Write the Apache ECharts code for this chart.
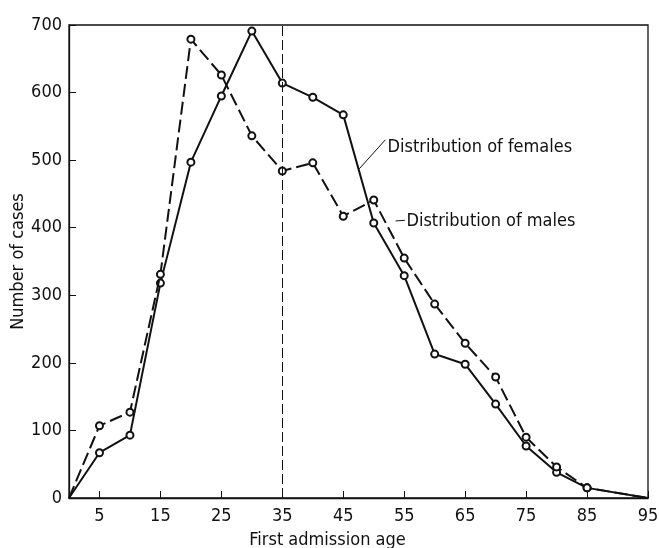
<!DOCTYPE html>
<html lang="en">
<head>
    <meta charset="UTF-8">
    <title>first admission age</title>
    <script src="https://cdn.jsdelivr.net/npm/echarts@6/dist/echarts.min.js"></script>
</head>
<body style="margin:0">
<div id="chart" style="width: 659px;height:548px;"></div>
<script>
    let ages = [0, 5, 10, 15, 20, 25, 30, 35, 40, 45, 50, 55, 60, 65, 70, 75, 80, 85, 95]
    let females = [0, 67, 93, 318, 497, 595, 691, 614, 593, 567, 407, 329, 213, 198, 139, 77, 38, 15, 0]
    let males = [0, 107, 127, 331, 679, 626, 536, 484, 496, 417, 441, 355, 287, 229, 179, 90, 46, 15, 0]
    let xLabels = [5, 15, 25, 35, 45, 55, 65, 75, 85, 95]

    let font = '"Liberation Sans Narrow", "DejaVu Sans Condensed", sans-serif'
    let ink = '#111'

    // first and last points have no circle
    function toData(values) {
        return values.map(function (v, i) {
            let item = {value: [ages[i], v]};
            if (i === 0 || i === values.length - 1) item.symbol = 'none';
            return item;
        });
    }

    let chart = echarts.init(document.getElementById('chart'));

    let option = {
        animation: false,
        grid: {
            left: 69, top: 25, right: 11, bottom: 50,
            outerBoundsMode: 'none',
            show: true, borderColor: ink, borderWidth: 1.3
        },
        xAxis: {
            type: 'value',
            min: 0,
            max: 95,
            name: 'First admission age',
            nameLocation: 'middle',
            nameGap: 33,
            nameMoveOverlap: false,
            nameTextStyle: {fontFamily: font, fontSize: 18, color: ink, padding: [0, 62, 0, 0]},
            axisLine: {lineStyle: {color: ink, width: 1.3}},
            axisTick: {inside: true, length: 7, customValues: xLabels, lineStyle: {color: ink}},
            axisLabel: {customValues: xLabels, fontFamily: font, fontSize: 18, color: ink, margin: 9},
            splitLine: {show: false}
        },
        yAxis: {
            type: 'value',
            min: 0,
            max: 700,
            interval: 100,
            name: 'Number of cases',
            nameLocation: 'middle',
            nameGap: 42,
            nameMoveOverlap: false,
            nameTextStyle: {fontFamily: font, fontSize: 18, color: ink},
            axisLine: {show: true, lineStyle: {color: ink, width: 1.3}},
            axisTick: {show: true, inside: true, length: 7, lineStyle: {color: ink}},
            axisLabel: {fontFamily: font, fontSize: 18, color: ink, margin: 7},
            splitLine: {show: false}
        },
        series: [
            {
                name: 'females',
                type: 'line',
                data: toData(females),
                symbol: 'emptyCircle',
                symbolSize: 7,
                showSymbol: true,
                lineStyle: {color: ink, width: 2},
                itemStyle: {color: ink, borderWidth: 1.3},
                z: 3,
                markLine: {
                    silent: true,
                    symbol: 'none',
                    label: {show: false},
                    data: [
                        {xAxis: 35, lineStyle: {color: ink, width: 1, type: [10, 4]}},
                        [
                            {coord: [47.6, 487], lineStyle: {color: ink, width: 1, type: 'solid'}},
                            {coord: [51.9, 530]}
                        ]
                    ]
                },
                markPoint: {
                    silent: true,
                    symbolSize: 0,
                    label: {
                        show: true, position: 'right', distance: 1,
                        fontFamily: font, fontSize: 18, color: ink,
                        formatter: 'Distribution of females'
                    },
                    data: [{coord: [52.1, 519]}]
                }
            },
            {
                name: 'males',
                type: 'line',
                data: toData(males),
                symbol: 'emptyCircle',
                symbolSize: 7,
                showSymbol: true,
                lineStyle: {color: ink, width: 2, type: [13, 5]},
                itemStyle: {color: ink, borderWidth: 1.3},
                z: 4,
                markLine: {
                    silent: true,
                    symbol: 'none',
                    label: {show: false},
                    data: [
                        [
                            {coord: [53.6, 410], lineStyle: {color: ink, width: 1, type: 'solid'}},
                            {coord: [55.1, 411]}
                        ]
                    ]
                },
                markPoint: {
                    silent: true,
                    symbolSize: 0,
                    label: {
                        show: true, position: 'right', distance: 1,
                        fontFamily: font, fontSize: 18, color: ink,
                        formatter: 'Distribution of males'
                    },
                    data: [{coord: [55.2, 409]}]
                }
            }
        ]
    };

    chart.setOption(option);
</script>
</body>
</html>
